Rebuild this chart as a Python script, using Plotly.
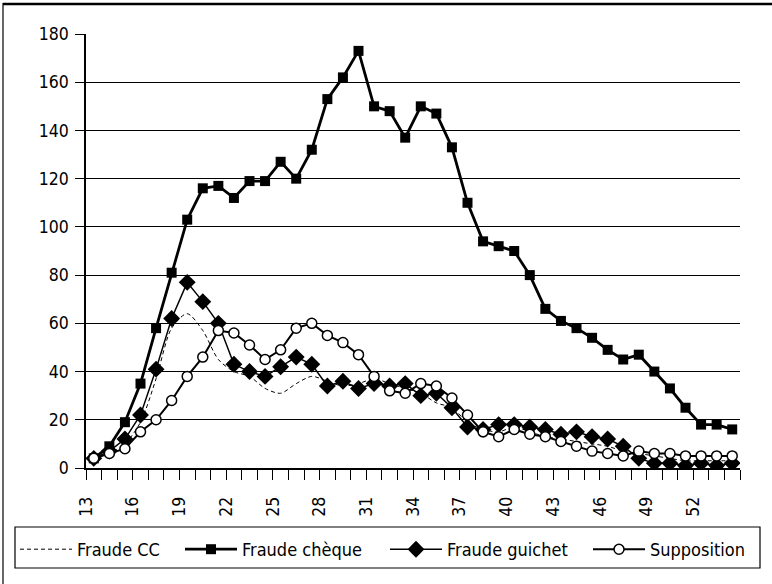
import plotly.graph_objects as go

ages = list(range(13, 55))

fraude_cc = [4, 6, 10, 19, 37, 58, 64, 57, 45, 40, 38, 33, 31, 35, 38, 36, 34, 35,
             37, 35, 33, 31, 27, 25, 19, 16, 15, 17, 15, 13, 12, 11, 10, 9, 7, 6,
             5, 4, 3, 3, 3, 3]
fraude_cheque = [4, 9, 19, 35, 58, 81, 103, 116, 117, 112, 119, 119, 127, 120, 132, 153, 162, 173,
                 150, 148, 137, 150, 147, 133, 110, 94, 92, 90, 80, 66, 61, 58, 54, 49, 45, 47,
                 40, 33, 25, 18, 18, 16]
fraude_guichet = [4, 7, 12, 22, 41, 62, 77, 69, 60, 43, 40, 38, 42, 46, 43, 34, 36, 33,
                  35, 34, 35, 30, 31, 25, 17, 16, 18, 18, 17, 16, 14, 15, 13, 12, 9, 4,
                  2, 2, 1, 2, 1, 2]
supposition = [4, 6, 8, 15, 20, 28, 38, 46, 57, 56, 51, 45, 49, 58, 60, 55, 52, 47,
               38, 32, 31, 35, 34, 29, 22, 15, 13, 16, 14, 13, 11, 9, 7, 6, 5, 7,
               6, 6, 5, 5, 5, 5]

label_every = 3
y_ticks = [0, 20, 40, 60, 80, 100, 120, 140, 160, 180]

FONT = "DejaVu Sans Condensed, DejaVu Sans, sans-serif"

# plot area in pixels: x 86..740, y 34..468
W, H = 772, 584
L, R, T, B = 86, 32, 34, 116
pw, ph = W - L - R, H - T - B


def px(x):
    return (x - L) / pw


def py(y):
    return (H - B - y) / ph


legend_x = [15, 180, 385, 588]  # container pixel positions of each legend entry
legend_common = dict(orientation="h", xref="container", yref="container",
                     y=1 - 531 / H, xanchor="left", yanchor="top",
                     font=dict(family=FONT, size=18, color="black"),
                     bgcolor="rgba(0,0,0,0)", borderwidth=0, itemwidth=52)

fig = go.Figure()
fig.add_trace(go.Scatter(
    x=ages, y=fraude_cc, name="Fraude CC", mode="lines", legend="legend",
    line=dict(color="black", width=1, dash="4px,3px", shape="spline", smoothing=0.8)))
fig.add_trace(go.Scatter(
    x=ages, y=fraude_cheque, name="Fraude chèque", mode="lines+markers", legend="legend2",
    line=dict(color="black", width=2.8),
    marker=dict(symbol="square", size=10, color="black")))
fig.add_trace(go.Scatter(
    x=ages, y=fraude_guichet, name="Fraude guichet", mode="lines+markers", legend="legend3",
    line=dict(color="black", width=1.5),
    marker=dict(symbol="diamond", size=13, color="black")))
fig.add_trace(go.Scatter(
    x=ages, y=supposition, name="Supposition", mode="lines+markers", legend="legend4",
    line=dict(color="black", width=2),
    marker=dict(symbol="circle", size=10, color="white", line=dict(color="black", width=1.5))))

tickvals = [a - 0.5 for a in ages] + [ages[-1] + 0.5]
ticktext = [(str(a) + "\u00a0\u00a0") if (a - ages[0]) % label_every == 0 else ""
            for a in ages] + [""]

fig.update_layout(
    width=W, height=H,
    margin=dict(l=L, r=R, t=T, b=B, autoexpand=False),
    paper_bgcolor="white", plot_bgcolor="white",
    font=dict(family=FONT, size=17, color="black"),
    showlegend=True,
    legend=dict(legend_common, x=legend_x[0] / W),
    legend2=dict(legend_common, x=legend_x[1] / W),
    legend3=dict(legend_common, x=legend_x[2] / W),
    legend4=dict(legend_common, x=legend_x[3] / W),
    xaxis=dict(range=[ages[0] - 0.5, ages[-1] + 0.5], tickmode="array",
               tickvals=tickvals, ticktext=ticktext, tickangle=-90,
               ticks="outside", ticklen=10, tickwidth=1, tickcolor="black",
               showline=True, linecolor="black", linewidth=1.5,
               showgrid=False, zeroline=False,
               tickfont=dict(family=FONT, size=17.5, color="black")),
    yaxis=dict(range=[0, 180], tickmode="array", tickvals=y_ticks,
               ticks="outside", ticklen=9, tickwidth=1, tickcolor="black",
               ticklabelstandoff=3,
               showline=True, linecolor="black", linewidth=1.5,
               showgrid=True, gridcolor="black", gridwidth=1, zeroline=False,
               tickfont=dict(family=FONT, size=17.5, color="black")),
    shapes=[
        dict(type="rect", xref="paper", yref="paper",
             x0=px(15), x1=px(760), y0=py(568), y1=py(527),
             line=dict(color="black", width=1.2)),
        dict(type="line", xref="paper", yref="paper",
             x0=px(3), x1=px(772), y0=py(4), y1=py(4),
             line=dict(color="black", width=2.5)),
        dict(type="line", xref="paper", yref="paper",
             x0=px(3), x1=px(3), y0=py(3), y1=py(584),
             line=dict(color="black", width=1.2)),
    ],
)

fig.write_html("out.html", config={"displayModeBar": False},
               post_script="document.body.style.margin='0';document.body.style.overflow='hidden';")
